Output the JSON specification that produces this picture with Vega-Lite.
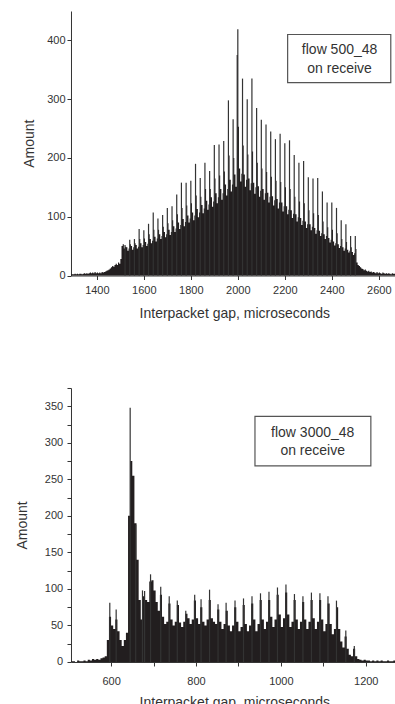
{
  "$schema": "https://vega.github.io/schema/vega-lite/v6.json",
  "background": "white",
  "padding": {"left": 15, "top": 11, "right": 0, "bottom": 0},
  "config": {
    "view": {"stroke": null},
    "axis": {"domainColor": "#333", "tickColor": "#333", "labelColor": "#333", "titleColor": "#333", "labelFont": "Liberation Sans", "titleFont": "Liberation Sans", "labelFontSize": 11, "titleFontSize": 14, "titleFontWeight": "normal", "tickSize": 4, "grid": false, "domainWidth": 1, "tickWidth": 1, "labelOverlap": false}
  },
  "datasets": {
    "tb": [
      {"g":1290,"n":2},{"g":1300,"n":2},{"g":1305,"n":3},{"g":1310,"n":2},{"g":1315,"n":3},{"g":1320,"n":2},{"g":1325,"n":3},{"g":1330,"n":3},{"g":1335,"n":2},{"g":1340,"n":3},{"g":1345,"n":4},{"g":1350,"n":3},{"g":1355,"n":4},{"g":1360,"n":3},{"g":1365,"n":4},{"g":1370,"n":5},{"g":1375,"n":4},{"g":1380,"n":5},{"g":1385,"n":4},{"g":1390,"n":6},{"g":1395,"n":4},{"g":1400,"n":5},{"g":1405,"n":4},{"g":1410,"n":5},{"g":1415,"n":4},{"g":1420,"n":6},{"g":1425,"n":5},{"g":1430,"n":6},{"g":1435,"n":7},{"g":1440,"n":8},{"g":1445,"n":9},{"g":1450,"n":10},{"g":1455,"n":12},{"g":1460,"n":14},{"g":1465,"n":16},{"g":1470,"n":15},{"g":1475,"n":18},{"g":1480,"n":20},{"g":1485,"n":18},{"g":1490,"n":22},{"g":1495,"n":20},{"g":1500,"n":28},{"g":1505,"n":50},{"g":1510,"n":53},{"g":1515,"n":46},
      {"g":1520,"n":49},{"g":1525,"n":48},{"g":1530,"n":42},{"g":1535,"n":46},
      {"g":1540,"n":53},{"g":1545,"n":50},{"g":1550,"n":44},{"g":1555,"n":48},
      {"g":1560,"n":55},{"g":1565,"n":52},{"g":1570,"n":46},{"g":1575,"n":49},
      {"g":1580,"n":62},{"g":1585,"n":55},{"g":1590,"n":48},{"g":1595,"n":52},
      {"g":1600,"n":63},{"g":1605,"n":57},{"g":1610,"n":50},{"g":1615,"n":54},
      {"g":1620,"n":70},{"g":1625,"n":62},{"g":1630,"n":55},{"g":1635,"n":59},
      {"g":1640,"n":78},{"g":1645,"n":66},{"g":1650,"n":58},{"g":1655,"n":63},
      {"g":1660,"n":78},{"g":1665,"n":70},{"g":1670,"n":62},{"g":1675,"n":67},
      {"g":1680,"n":83},{"g":1685,"n":74},{"g":1690,"n":65},{"g":1695,"n":70},
      {"g":1700,"n":89},{"g":1705,"n":78},{"g":1710,"n":69},{"g":1715,"n":74},
      {"g":1720,"n":94},{"g":1725,"n":84},{"g":1730,"n":74},{"g":1735,"n":80},
      {"g":1740,"n":104},{"g":1745,"n":90},{"g":1750,"n":79},{"g":1755,"n":86},
      {"g":1760,"n":115},{"g":1765,"n":96},{"g":1770,"n":84},{"g":1775,"n":91},
      {"g":1780,"n":119},{"g":1785,"n":102},{"g":1790,"n":90},{"g":1795,"n":97},
      {"g":1800,"n":123},{"g":1805,"n":107},{"g":1810,"n":94},{"g":1815,"n":102},
      {"g":1820,"n":136},{"g":1825,"n":113},{"g":1830,"n":99},{"g":1835,"n":107},
      {"g":1840,"n":134},{"g":1845,"n":120},{"g":1850,"n":106},{"g":1855,"n":114},
      {"g":1860,"n":147},{"g":1865,"n":127},{"g":1870,"n":112},{"g":1875,"n":121},
      {"g":1880,"n":147},{"g":1885,"n":133},{"g":1890,"n":117},{"g":1895,"n":126},
      {"g":1900,"n":165},{"g":1905,"n":140},{"g":1910,"n":123},{"g":1915,"n":133},
      {"g":1920,"n":170},{"g":1925,"n":147},{"g":1930,"n":129},{"g":1935,"n":140},
      {"g":1940,"n":177},{"g":1945,"n":155},{"g":1950,"n":136},{"g":1955,"n":147},
      {"g":1960,"n":204},{"g":1965,"n":163},{"g":1970,"n":143},{"g":1975,"n":155},
      {"g":1980,"n":200},{"g":1985,"n":172},{"g":1990,"n":151},{"g":1995,"n":375},
      {"g":2000,"n":253},{"g":2005,"n":182},{"g":2010,"n":160},{"g":2015,"n":173},
      {"g":2020,"n":221},{"g":2025,"n":172},{"g":2030,"n":151},{"g":2035,"n":163},
      {"g":2040,"n":206},{"g":2045,"n":165},{"g":2050,"n":145},{"g":2055,"n":157},
      {"g":2060,"n":211},{"g":2065,"n":158},{"g":2070,"n":139},{"g":2075,"n":150},
      {"g":2080,"n":192},{"g":2085,"n":152},{"g":2090,"n":134},{"g":2095,"n":144},
      {"g":2100,"n":182},{"g":2105,"n":147},{"g":2110,"n":129},{"g":2115,"n":140},
      {"g":2120,"n":176},{"g":2125,"n":141},{"g":2130,"n":124},{"g":2135,"n":134},
      {"g":2140,"n":168},{"g":2145,"n":135},{"g":2150,"n":119},{"g":2155,"n":128},
      {"g":2160,"n":161},{"g":2165,"n":130},{"g":2170,"n":114},{"g":2175,"n":124},
      {"g":2180,"n":159},{"g":2185,"n":124},{"g":2190,"n":109},{"g":2195,"n":118},
      {"g":2200,"n":150},{"g":2205,"n":118},{"g":2210,"n":104},{"g":2215,"n":112},
      {"g":2220,"n":147},{"g":2225,"n":111},{"g":2230,"n":98},{"g":2235,"n":105},
      {"g":2240,"n":134},{"g":2245,"n":104},{"g":2250,"n":92},{"g":2255,"n":99},
      {"g":2260,"n":126},{"g":2265,"n":98},{"g":2270,"n":86},{"g":2275,"n":93},
      {"g":2280,"n":123},{"g":2285,"n":92},{"g":2290,"n":81},{"g":2295,"n":87},
      {"g":2300,"n":111},{"g":2305,"n":87},{"g":2310,"n":77},{"g":2315,"n":83},
      {"g":2320,"n":106},{"g":2325,"n":81},{"g":2330,"n":71},{"g":2335,"n":77},
      {"g":2340,"n":103},{"g":2345,"n":76},{"g":2350,"n":67},{"g":2355,"n":72},
      {"g":2360,"n":92},{"g":2365,"n":70},{"g":2370,"n":62},{"g":2375,"n":67},
      {"g":2380,"n":82},{"g":2385,"n":64},{"g":2390,"n":56},{"g":2395,"n":61},
      {"g":2400,"n":78},{"g":2405,"n":58},{"g":2410,"n":51},{"g":2415,"n":55},
      {"g":2420,"n":72},{"g":2425,"n":53},{"g":2430,"n":47},{"g":2435,"n":50},
      {"g":2440,"n":62},{"g":2445,"n":48},{"g":2450,"n":42},{"g":2455,"n":46},
      {"g":2460,"n":57},{"g":2465,"n":44},{"g":2470,"n":39},{"g":2475,"n":42},
      {"g":2480,"n":48},{"g":2485,"n":40},{"g":2490,"n":35},{"g":2495,"n":38},
      {"g":2500,"n":45},{"g":2505,"n":22},{"g":2510,"n":18},{"g":2515,"n":16},
      {"g":2520,"n":14},{"g":2525,"n":12},{"g":2530,"n":11},{"g":2535,"n":9},{"g":2540,"n":10},{"g":2545,"n":8},{"g":2550,"n":7},{"g":2555,"n":8},{"g":2560,"n":6},{"g":2565,"n":7},{"g":2570,"n":5},{"g":2575,"n":6},{"g":2580,"n":5},{"g":2585,"n":4},{"g":2590,"n":6},{"g":2595,"n":4},{"g":2600,"n":5},{"g":2605,"n":4},{"g":2610,"n":3},{"g":2615,"n":5},{"g":2620,"n":4},{"g":2625,"n":3},{"g":2630,"n":4},{"g":2635,"n":3},{"g":2640,"n":4},{"g":2645,"n":3},{"g":2650,"n":2},{"g":2655,"n":4},{"g":2660,"n":3},{"g":2665,"n":3},{"g":2670,"n":2},{"g":2675,"n":3},{"g":2680,"n":3}
    ],
    "ts": [
      {"g":1520,"n":52},{"g":1540,"n":61},{"g":1560,"n":62},{"g":1580,"n":79},{"g":1600,"n":77},{"g":1620,"n":88},{"g":1640,"n":107},{"g":1660,"n":97},{"g":1680,"n":103},{"g":1700,"n":115},{"g":1720,"n":118},{"g":1740,"n":138},{"g":1760,"n":158},{"g":1780,"n":158},{"g":1800,"n":161},{"g":1820,"n":190},{"g":1840,"n":166},{"g":1860,"n":192},{"g":1880,"n":178},{"g":1900,"n":222},{"g":1920,"n":223},{"g":1940,"n":229},{"g":1960,"n":298},{"g":1980,"n":266},{"g":2000,"n":419},{"g":2020,"n":335},{"g":2040,"n":300},{"g":2060,"n":335},{"g":2080,"n":285},{"g":2100,"n":265},{"g":2120,"n":257},{"g":2140,"n":245},{"g":2160,"n":232},{"g":2180,"n":241},{"g":2200,"n":225},{"g":2220,"n":230},{"g":2240,"n":205},{"g":2260,"n":192},{"g":2280,"n":195},{"g":2300,"n":167},{"g":2320,"n":165},{"g":2340,"n":166},{"g":2360,"n":143},{"g":2380,"n":124},{"g":2400,"n":124},{"g":2420,"n":115},{"g":2440,"n":94},{"g":2460,"n":87},{"g":2480,"n":67},{"g":2500,"n":67}
    ],
    "bb": [
      {"g":505.6,"n":1},{"g":510,"n":1},{"g":515,"n":0},{"g":520,"n":2},{"g":525,"n":1},{"g":530,"n":1},{"g":535,"n":2},{"g":540,"n":1},{"g":545,"n":3},{"g":550,"n":2},{"g":555,"n":4},{"g":560,"n":3},{"g":565,"n":4},{"g":570,"n":3},{"g":575,"n":5},{"g":580,"n":6},{"g":585,"n":8},{"g":590,"n":30},{"g":595,"n":62},{"g":600,"n":50},{"g":605,"n":45},{"g":610,"n":58},{"g":615,"n":42},{"g":620,"n":30},{"g":625,"n":22},{"g":630,"n":30},{"g":635,"n":40},{"g":640,"n":200},{"g":645,"n":275},{"g":650,"n":255},{"g":655,"n":190},{"g":660,"n":140},{"g":665,"n":85},{"g":670,"n":58},{"g":675,"n":90},{"g":680,"n":85},{"g":685,"n":82},{"g":690,"n":110},{"g":695,"n":112},{"g":700,"n":98},{"g":705,"n":82},{"g":710,"n":70},{"g":715,"n":92},{"g":720,"n":62},{"g":725,"n":52},{"g":730,"n":55},{"g":735,"n":80},{"g":740,"n":58},{"g":745,"n":50},{"g":750,"n":55},{"g":755,"n":78},{"g":760,"n":54},{"g":765,"n":48},{"g":770,"n":55},{"g":775,"n":66},{"g":780,"n":60},{"g":785,"n":52},{"g":790,"n":58},{"g":795,"n":84},{"g":800,"n":60},{"g":805,"n":52},{"g":810,"n":75},{"g":815,"n":55},{"g":820,"n":50},{"g":825,"n":58},{"g":830,"n":85},{"g":835,"n":60},{"g":840,"n":55},{"g":845,"n":52},{"g":850,"n":72},{"g":855,"n":55},{"g":860,"n":45},{"g":865,"n":52},{"g":870,"n":70},{"g":875,"n":50},{"g":880,"n":42},{"g":885,"n":50},{"g":890,"n":75},{"g":895,"n":55},{"g":900,"n":42},{"g":905,"n":48},{"g":910,"n":78},{"g":915,"n":52},{"g":920,"n":42},{"g":925,"n":50},{"g":930,"n":80},{"g":935,"n":58},{"g":940,"n":42},{"g":945,"n":52},{"g":950,"n":85},{"g":955,"n":58},{"g":960,"n":45},{"g":965,"n":55},{"g":970,"n":85},{"g":975,"n":62},{"g":980,"n":48},{"g":985,"n":58},{"g":990,"n":92},{"g":995,"n":65},{"g":1000,"n":48},{"g":1005,"n":60},{"g":1010,"n":95},{"g":1015,"n":65},{"g":1020,"n":48},{"g":1025,"n":55},{"g":1030,"n":85},{"g":1035,"n":58},{"g":1040,"n":45},{"g":1045,"n":55},{"g":1050,"n":82},{"g":1055,"n":58},{"g":1060,"n":45},{"g":1065,"n":55},{"g":1070,"n":85},{"g":1075,"n":60},{"g":1080,"n":45},{"g":1085,"n":55},{"g":1090,"n":85},{"g":1095,"n":58},{"g":1100,"n":42},{"g":1105,"n":52},{"g":1110,"n":80},{"g":1115,"n":52},{"g":1120,"n":38},{"g":1125,"n":45},{"g":1130,"n":75},{"g":1135,"n":45},{"g":1140,"n":28},{"g":1145,"n":20},{"g":1150,"n":35},{"g":1155,"n":18},{"g":1160,"n":10},{"g":1165,"n":8},{"g":1170,"n":18},{"g":1175,"n":8},{"g":1180,"n":4},{"g":1185,"n":3},{"g":1190,"n":2},{"g":1195,"n":3},{"g":1200,"n":2},{"g":1205,"n":2},{"g":1210,"n":1},{"g":1215,"n":2},{"g":1220,"n":1},{"g":1225,"n":2},{"g":1230,"n":1},{"g":1235,"n":2},{"g":1240,"n":1},{"g":1245,"n":1},{"g":1250,"n":2},{"g":1255,"n":1},{"g":1260,"n":1},{"g":1265,"n":2},{"g":1270,"n":1},{"g":1275,"n":1}
    ],
    "bs": [
      {"g":597,"n":81},{"g":612,"n":72},{"g":645,"n":348},{"g":658,"n":188},{"g":674,"n":98},{"g":679,"n":97},{"g":693,"n":120},{"g":717,"n":103},{"g":737,"n":90},{"g":756,"n":84},{"g":776,"n":70},{"g":797,"n":92},{"g":812,"n":86},{"g":832,"n":99},{"g":852,"n":79},{"g":871,"n":81},{"g":892,"n":84},{"g":912,"n":87},{"g":932,"n":90},{"g":952,"n":94},{"g":972,"n":96},{"g":992,"n":102},{"g":1012,"n":106},{"g":1032,"n":93},{"g":1052,"n":90},{"g":1072,"n":95},{"g":1092,"n":94},{"g":1111,"n":90},{"g":1131,"n":84},{"g":1153,"n":43},{"g":1173,"n":22}
    ],
    "tn": [{"x1": 2212, "x2": 2651, "y1": 328, "y2": 410}],
    "tt": [{"x": 2433, "y": 383, "t": "flow 500_48"}, {"x": 2433, "y": 351, "t": "on receive"}],
    "bn": [{"x1": 939, "x2": 1212, "y1": 268.4, "y2": 336.3}],
    "bt": [{"x": 1075, "y": 314, "t": "flow 3000_48"}, {"x": 1075, "y": 288.5, "t": "on receive"}]
  },
  "columns": 1,
  "align": "none",
  "spacing": 61,
  "concat": [
    {
      "width": 326.6,
      "height": 264.5,
      "layer": [
        {
          "data": {"name": "tb"},
          "mark": {"type": "area", "interpolate": "step-after", "color": "#221e1f"},
          "encoding": {
            "x": {"field": "g", "type": "quantitative", "title": "Interpacket gap, microseconds", "scale": {"domain": [1290, 2680], "nice": false, "zero": false},
              "axis": {"values": [1400,1500,1600,1700,1800,1900,2000,2100,2200,2300,2400,2500,2600], "labelExpr": "datum.value % 200 === 0 ? datum.label : ''", "format": "d", "labelPadding": 5, "titlePadding": 11, "labelFlush": false, "labelOverlap": false}},
            "y": {"field": "n", "type": "quantitative", "title": "Amount", "scale": {"domain": [0, 450], "nice": false},
              "axis": {"values": [0,50,100,150,200,250,300,350,400,450], "labelExpr": "datum.value % 100 === 0 ? datum.label : ''", "labelPadding": 2, "titlePadding": 10.4, "labelOverlap": false}}
          }
        },
        {
          "data": {"name": "ts"},
          "mark": {"type": "rule", "color": "#333", "strokeWidth": 1.2},
          "encoding": {
            "x": {"field": "g", "type": "quantitative", "title": "Interpacket gap, microseconds"},
            "y": {"field": "n", "type": "quantitative", "title": "Amount"},
            "y2": {"datum": 0}
          }
        },
        {
          "data": {"name": "tn"},
          "mark": {"type": "rect", "fill": "white", "stroke": "#555", "strokeWidth": 1.2},
          "encoding": {
            "x": {"field": "x1", "type": "quantitative", "title": "Interpacket gap, microseconds"},
            "x2": {"field": "x2"},
            "y": {"field": "y1", "type": "quantitative", "title": "Amount"},
            "y2": {"field": "y2"}
          }
        },
        {
          "data": {"name": "tt"},
          "mark": {"type": "text", "font": "Liberation Sans", "fontSize": 14, "color": "#333", "align": "center", "baseline": "middle"},
          "encoding": {
            "x": {"field": "x", "type": "quantitative", "title": "Interpacket gap, microseconds"},
            "y": {"field": "y", "type": "quantitative", "title": "Amount"},
            "text": {"field": "t"}
          }
        }
      ]
    },
    {
      "width": 326.6,
      "height": 274,
      "layer": [
        {
          "data": {"name": "bb"},
          "mark": {"type": "area", "interpolate": "step-after", "color": "#221e1f"},
          "encoding": {
            "x": {"field": "g", "type": "quantitative", "title": "Interpacket gap, microseconds", "scale": {"domain": [505.6, 1275], "nice": false, "zero": false},
              "axis": {"values": [600,700,800,900,1000,1100,1200], "labelExpr": "datum.value % 200 === 0 ? datum.label : ''", "format": "d", "labelPadding": 10, "titlePadding": 9, "labelFlush": false, "labelOverlap": false}},
            "y": {"field": "n", "type": "quantitative", "title": "Amount", "scale": {"domain": [0, 375], "nice": false},
              "axis": {"values": [0,25,50,75,100,125,150,175,200,225,250,275,300,325,350,375], "tickCount": 16, "format": "d", "labelExpr": "datum.value % 50 === 0 ? datum.label : ''", "labelPadding": 4.4, "titlePadding": 14.3, "labelOverlap": false, "labelSeparation": -30, "labelBound": false}}
          }
        },
        {
          "data": {"name": "bs"},
          "mark": {"type": "rule", "color": "#333", "strokeWidth": 1.2},
          "encoding": {
            "x": {"field": "g", "type": "quantitative", "title": "Interpacket gap, microseconds"},
            "y": {"field": "n", "type": "quantitative", "title": "Amount"},
            "y2": {"datum": 0}
          }
        },
        {
          "data": {"name": "bn"},
          "mark": {"type": "rect", "fill": "white", "stroke": "#555", "strokeWidth": 1.2},
          "encoding": {
            "x": {"field": "x1", "type": "quantitative", "title": "Interpacket gap, microseconds"},
            "x2": {"field": "x2"},
            "y": {"field": "y1", "type": "quantitative", "title": "Amount"},
            "y2": {"field": "y2"}
          }
        },
        {
          "data": {"name": "bt"},
          "mark": {"type": "text", "font": "Liberation Sans", "fontSize": 14, "color": "#333", "align": "center", "baseline": "middle"},
          "encoding": {
            "x": {"field": "x", "type": "quantitative", "title": "Interpacket gap, microseconds"},
            "y": {"field": "y", "type": "quantitative", "title": "Amount"},
            "text": {"field": "t"}
          }
        }
      ]
    }
  ]
}
